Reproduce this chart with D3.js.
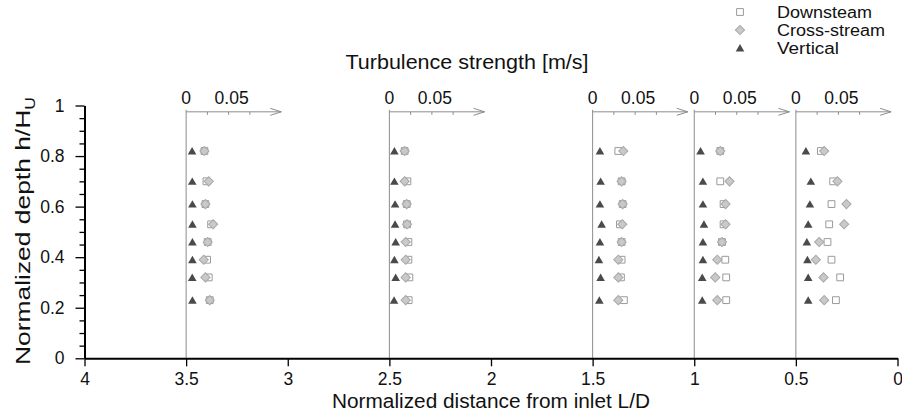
<!DOCTYPE html>
<html>
<head>
<meta charset="utf-8">
<script src="https://cdn.jsdelivr.net/npm/d3@7"></script>
<style>
  body { margin: 0; background: #fff; }
  svg text { font-family: "Liberation Sans", Arial, sans-serif; fill: #111; }
</style>
</head>
<body>
<svg id="chart" width="902" height="417"></svg>
<script>
// measuring stations (L/D) and depths (h/H_U)
const stations = [3.5, 2.5, 1.5, 1, 0.5];
const depths = [0.82, 0.70, 0.61, 0.53, 0.46, 0.39, 0.32, 0.23];

// turbulence strength [m/s], one row per station, top to bottom
const downstream = [
  [0.0215, 0.0239, 0.0227, 0.0294, 0.0254, 0.0247, 0.0266, 0.0278],
  [0.0180, 0.0212, 0.0204, 0.0208, 0.0224, 0.0224, 0.0235, 0.0227],
  [0.0302, 0.0341, 0.0353, 0.0321, 0.0341, 0.0341, 0.0333, 0.0368],
  [0.0306, 0.0306, 0.0345, 0.0345, 0.0326, 0.0365, 0.0376, 0.0376],
  [0.0294, 0.0439, 0.0419, 0.0392, 0.0372, 0.0419, 0.0521, 0.0471]
];
const crossStream = [
  [0.0215, 0.0266, 0.0227, 0.0318, 0.0254, 0.0207, 0.0227, 0.0278],
  [0.0180, 0.0180, 0.0204, 0.0208, 0.0192, 0.0192, 0.0192, 0.0192],
  [0.0361, 0.0341, 0.0353, 0.0349, 0.0341, 0.0302, 0.0302, 0.0302],
  [0.0306, 0.0415, 0.0368, 0.0368, 0.0326, 0.0271, 0.0247, 0.0271],
  [0.0333, 0.0489, 0.0595, 0.0568, 0.0274, 0.0235, 0.0325, 0.0333]
];
const vertical = [
  [0.0070, 0.0072, 0.0074, 0.0074, 0.0074, 0.0074, 0.0072, 0.0074],
  [0.0059, 0.0059, 0.0067, 0.0067, 0.0074, 0.0059, 0.0074, 0.0055],
  [0.0086, 0.0094, 0.0086, 0.0106, 0.0086, 0.0074, 0.0094, 0.0079],
  [0.0074, 0.0102, 0.0102, 0.0114, 0.0102, 0.0102, 0.0094, 0.0094],
  [0.0118, 0.0176, 0.0165, 0.0145, 0.0129, 0.0136, 0.0145, 0.0145]
];

const xTicks = [4, 3.5, 3, 2.5, 2, 1.5, 1, 0.5, 0];
const yTicks = [0, 0.2, 0.4, 0.6, 0.8, 1];
const yMinorTicks = d3.range(0.05, 1, 0.05).filter(v => Math.abs(v * 5 - Math.round(v * 5)) > 1e-6);
const strengthTicks = [0.025, 0.05, 0.075];
const strengthLabels = [0, 0.05];
const arrowTop = 0.975;     // h/H_U level of the strength arrows
const arrowEnd = 0.112;     // arrow length in m/s

const seriesNames = ['Downsteam', 'Cross-stream', 'Vertical'];
const legendWidths = [95, 108, 62];

const svg = d3.select('#chart');
const x = d3.scaleLinear().domain([4, 0]).range([84.5, 897.5]);
const y = d3.scaleLinear().domain([0, 1]).range([358.3, 105.5]);
const s = d3.scaleLinear().domain([0, 0.1]).range([0, 85]);

const sq = d3.symbol(d3.symbolSquare, 46)();
const dia = d3.symbol(d3.symbolSquare, 42)();
const tri = d3.symbol(d3.symbolTriangle, 32)();

function drawSquare(g, cx, cy) {
  g.append('path').attr('d', sq).attr('transform', `translate(${cx},${cy})`)
    .attr('fill', '#fff').attr('stroke', '#9a9a9a').attr('stroke-width', 1);
}
function drawDiamond(g, cx, cy) {
  g.append('path').attr('d', dia).attr('transform', `translate(${cx},${cy}) rotate(45)`)
    .attr('fill', '#c9c9c9').attr('stroke', '#a8a8a8').attr('stroke-width', 1);
}
function drawTriangle(g, cx, cy) {
  g.append('path').attr('d', tri).attr('transform', `translate(${cx},${cy + 1})`)
    .attr('fill', '#4a4a4a');
}

// profile axes with strength arrows
const prof = svg.append('g');
stations.forEach((st, i) => {
  const x0 = x(st);
  const g = prof.append('g');
  g.append('line').attr('x1', x0).attr('x2', x0).attr('y1', y(arrowTop) - 2).attr('y2', y(0))
    .attr('stroke', '#8c8c8c').attr('stroke-width', 1);
  g.append('line').attr('x1', x0).attr('x2', x0 + s(arrowEnd)).attr('y1', y(arrowTop)).attr('y2', y(arrowTop))
    .attr('stroke', '#8c8c8c').attr('stroke-width', 1);
  const xe = x0 + s(arrowEnd), ya = y(arrowTop);
  g.append('path').attr('d', `M${xe - 11},${ya - 3.5}L${xe},${ya}L${xe - 11},${ya + 3.5}`)
    .attr('fill', 'none').attr('stroke', '#8c8c8c').attr('stroke-width', 1);
  strengthTicks.forEach(t => {
    g.append('line').attr('x1', x0 + s(t)).attr('x2', x0 + s(t)).attr('y1', ya).attr('y2', ya + 3)
      .attr('stroke', '#8c8c8c').attr('stroke-width', 1);
  });
  strengthLabels.forEach(t => {
    g.append('text').attr('x', x0 + s(t) + (t ? 3 : 0)).attr('y', ya - 8)
      .attr('text-anchor', 'middle').attr('font-size', 17.5).text(t === 0 ? '0' : '0.05');
  });

  const marks = svg.append('g');
  depths.forEach((h, j) => {
    drawTriangle(marks, x0 + s(vertical[i][j]), y(h));
    drawSquare(marks, x0 + s(downstream[i][j]), y(h));
    drawDiamond(marks, x0 + s(crossStream[i][j]), y(h));
  });
});

// axes
const xAxis = svg.append('g').attr('transform', `translate(0,${y(0)})`)
  .call(d3.axisBottom(x).tickValues(xTicks).tickSize(8).tickSizeOuter(0).tickPadding(6)
    .tickFormat(d3.format('')));
xAxis.selectAll('text').attr('font-size', 17.5);

svg.append('g').attr('transform', `translate(${x(4)},0)`)
  .call(d3.axisLeft(y).tickValues(yMinorTicks).tickSize(5).tickSizeOuter(0).tickFormat(''))
  .call(g => g.select('.domain').remove());
const yAxis = svg.append('g').attr('transform', `translate(${x(4)},0)`)
  .call(d3.axisLeft(y).tickValues(yTicks).tickSize(9).tickSizeOuter(0).tickPadding(11)
    .tickFormat(d3.format('')));
yAxis.selectAll('text').attr('font-size', 17.5);

svg.selectAll('.domain').attr('stroke', '#000').attr('stroke-width', 2);
svg.selectAll('.tick line').attr('stroke', '#000').attr('stroke-width', 1.3);

// titles
svg.append('text').attr('x', 491).attr('y', 408).attr('text-anchor', 'middle')
  .attr('font-size', 20).attr('textLength', 318).attr('lengthAdjust', 'spacingAndGlyphs')
  .text('Normalized distance from inlet L/D');
svg.append('text').attr('x', 467).attr('y', 69).attr('text-anchor', 'middle')
  .attr('font-size', 20).attr('textLength', 243).attr('lengthAdjust', 'spacingAndGlyphs')
  .text('Turbulence strength [m/s]');
const yl = svg.append('text').attr('transform', 'translate(30,231) rotate(-90)')
  .attr('text-anchor', 'middle').attr('font-size', 21)
  .attr('textLength', 268).attr('lengthAdjust', 'spacingAndGlyphs');
yl.append('tspan').text('Normalized depth h/H');
yl.append('tspan').attr('font-size', 14).attr('dy', 5).text('U');

// legend
const leg = svg.append('g');
const legDraw = [drawSquare, drawDiamond, drawTriangle];
seriesNames.forEach((name, i) => {
  const ly = 12 + i * 18;
  legDraw[i](leg, 740, ly);
  leg.append('text').attr('x', 777).attr('y', ly + 6).attr('font-size', 16)
    .attr('textLength', legendWidths[i]).attr('lengthAdjust', 'spacingAndGlyphs').text(name);
});
</script>
</body>
</html>
